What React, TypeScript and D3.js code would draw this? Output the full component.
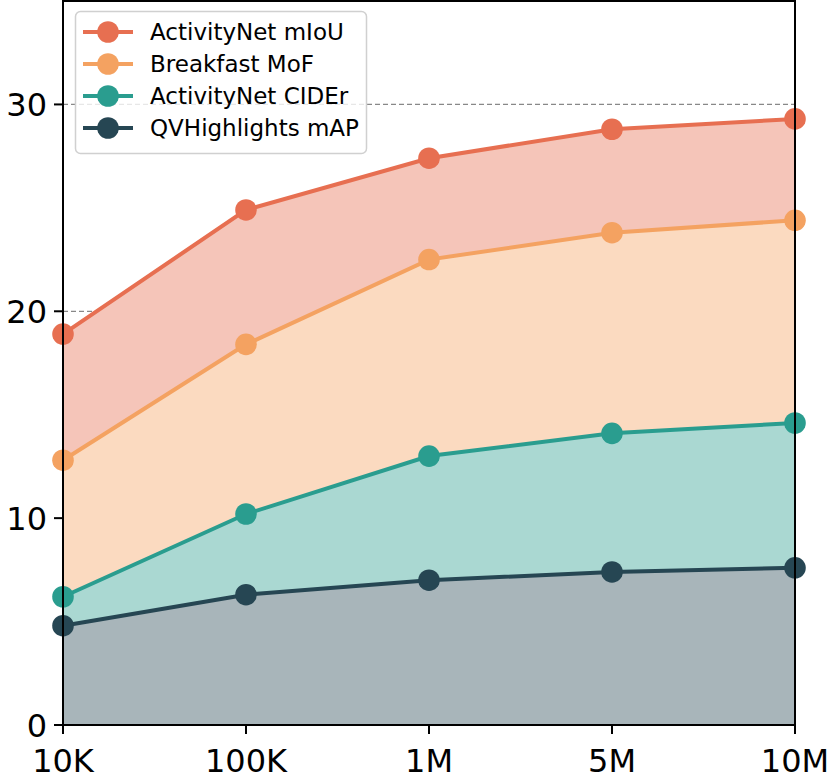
import React from "react";
import * as d3 from "d3";

const categories = ["10K", "100K", "1M", "5M", "10M"];
const seriesNames = ["ActivityNet mIoU", "Breakfast MoF", "ActivityNet CIDEr", "QVHighlights mAP"];
const activityNetMIoU = [18.9, 24.9, 27.4, 28.8, 29.3];
const breakfastMoF = [12.8, 18.4, 22.5, 23.8, 24.4];
const activityNetCIDEr = [6.2, 10.2, 13.0, 14.1, 14.6];
const qvHighlightsMAP = [4.8, 6.3, 7.0, 7.4, 7.6];
const yTicks = [0, 10, 20, 30];
const colors = ["#E76F51", "#F4A261", "#2A9D8F", "#264653"];

export default function App() {
  const W = 829, H = 780;
  const left = 63, right = 795, top = 1, bottom = 725;
  const x = d3.scalePoint<string>().domain(categories).range([left, right]);
  const y = d3.scaleLinear().domain([0, 35]).range([bottom, top]);
  const series = [activityNetMIoU, breakfastMoF, activityNetCIDEr, qvHighlightsMAP];
  const zeros = categories.map(() => 0);
  const font = "'DejaVu Sans', sans-serif";

  const line = d3.line<number>().x((_, i) => x(categories[i])!).y((d) => y(d));
  const bands = series.map((s, k) => {
    const lower = k < series.length - 1 ? series[k + 1] : zeros;
    const area = d3
      .area<number>()
      .x((_, i) => x(categories[i])!)
      .y0((_, i) => y(lower[i]))
      .y1((d) => y(d));
    return area(s)!;
  });
  const fillColor = (c: string) => d3.interpolateRgb("#ffffff", c)(0.4);

  return (
    <svg width={W} height={H} style={{ position: "absolute", left: 0, top: 0 }}>
      <rect width={W} height={H} fill="#fff" />
      {yTicks.map((t) => (
        <line key={t} x1={left} x2={right} y1={y(t)} y2={y(t)} stroke="#888" strokeWidth={1.2} strokeDasharray="5,3" />
      ))}
      {bands.map((d, k) => (
        <path key={k} d={d} fill={fillColor(colors[k])} stroke="none" />
      ))}
      {series.map((s, k) => (
        <g key={k}>
          <path d={line(s)!} fill="none" stroke={colors[k]} strokeWidth={4} />
          {s.map((v, i) => (
            <circle key={i} cx={x(categories[i])} cy={y(v)} r={10.8} fill={colors[k]} />
          ))}
        </g>
      ))}
      <rect x={left} y={top} width={right - left} height={bottom - top} fill="none" stroke="#000" strokeWidth={2} />
      {yTicks.map((t) => (
        <g key={t}>
          <line x1={left - 9} x2={left} y1={y(t)} y2={y(t)} stroke="#000" strokeWidth={2} />
          <text x={left - 16} y={y(t)} dy="0.36em" textAnchor="end" fontFamily={font} fontSize={32}>
            {t}
          </text>
        </g>
      ))}
      {categories.map((c) => (
        <g key={c}>
          <line x1={x(c)} x2={x(c)} y1={bottom} y2={bottom + 9} stroke="#000" strokeWidth={2} />
          <text x={x(c)} y={bottom + 47} textAnchor="middle" fontFamily={font} fontSize={32}>
            {c}
          </text>
        </g>
      ))}
      <g>
        <rect x={75.5} y={11.5} width={291} height={142} rx={5} fill="#fff" fillOpacity={0.8} stroke="#d0d0d0" strokeWidth={1.5} />
        {seriesNames.map((n, k) => {
          const cy = 32 + k * 32;
          return (
            <g key={n}>
              <line x1={83} x2={133} y1={cy} y2={cy} stroke={colors[k]} strokeWidth={4} />
              <circle cx={108} cy={cy} r={10.8} fill={colors[k]} />
              <text x={150} y={cy} dy="0.36em" fontFamily={font} fontSize={23}>
                {n}
              </text>
            </g>
          );
        })}
      </g>
    </svg>
  );
}
